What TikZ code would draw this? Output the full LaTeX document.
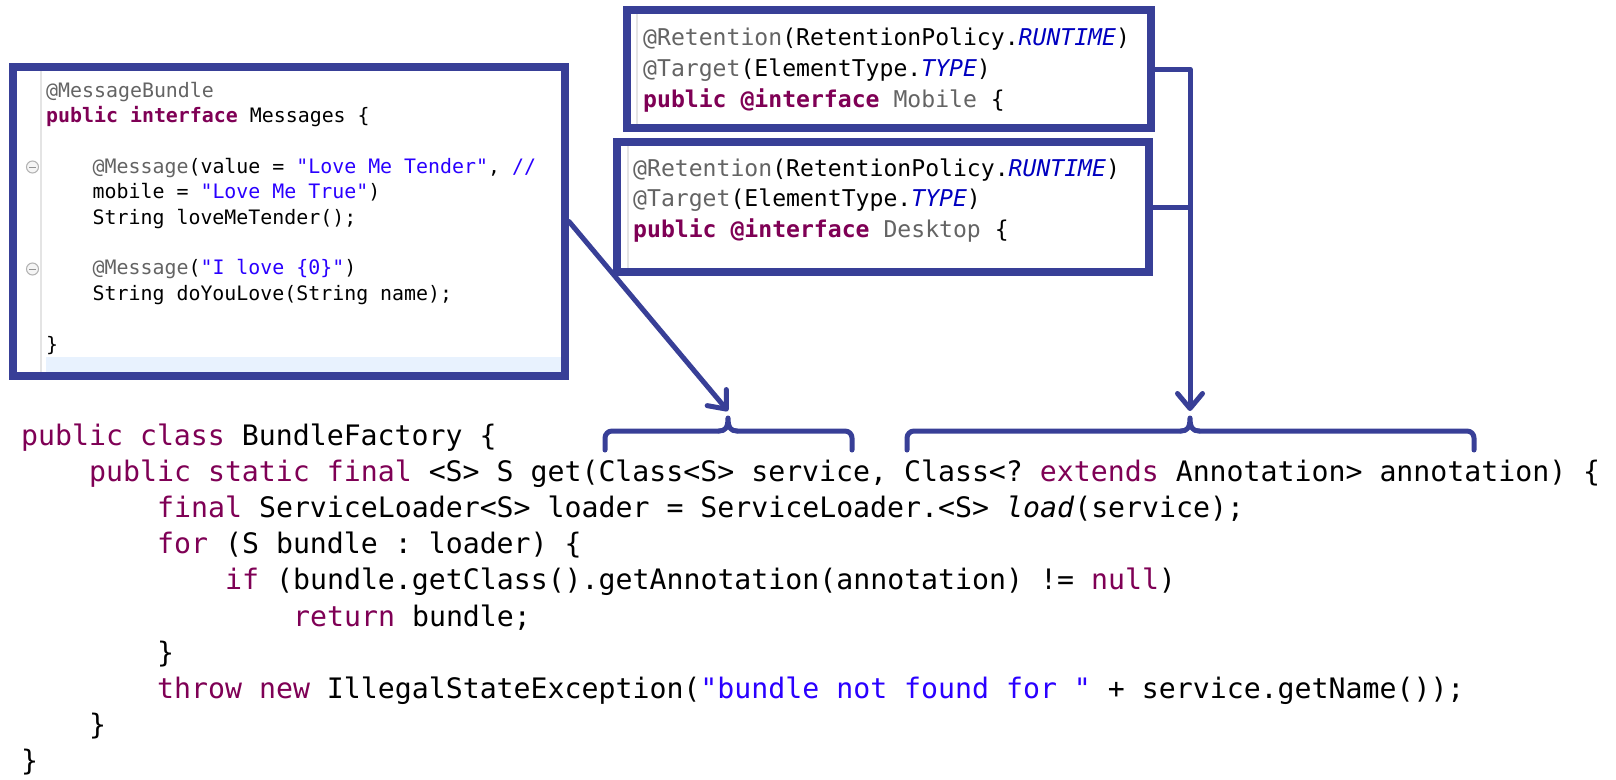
\documentclass[tikz,border=0pt]{standalone}
\usepackage{fontspec}
\setmonofont{DejaVu Sans Mono}
\usetikzlibrary{arrows.meta}
\definecolor{frame}{HTML}{383F97}
\definecolor{kwc}{HTML}{7F0055}
\definecolor{strc}{HTML}{2A00FF}
\definecolor{annc}{HTML}{646464}
\definecolor{cstc}{HTML}{0000C0}
\definecolor{gut}{HTML}{E4E4E4}
\definecolor{hil}{HTML}{E8F2FE}
\newcommand\cKW[1]{\textcolor{kwc}{#1}}
\newcommand\cKB[1]{\textcolor{kwc}{\bfseries #1}}
\newcommand\cST[1]{\textcolor{strc}{#1}}
\newcommand\cAN[1]{\textcolor{annc}{#1}}
\newcommand\cCI[1]{\textcolor{cstc}{\itshape #1}}
\begin{document}
\begin{tikzpicture}[x=1pt,y=-1pt,
  codebox/.style={draw=frame, line width=8pt, fill=white, inner sep=0pt},
  bline/.style={draw=frame, line width=5pt, line cap=round, line join=round},
  barrow/.style={bline, -{Straight Barb[length=15pt,width=25pt,round]}},
  ltxt/.style={anchor=base west, inner sep=0pt, font=\fontsize{19.9}{24}\selectfont\ttfamily},
  ttxt/.style={anchor=base west, inner sep=0pt, font=\fontsize{23.1}{28}\selectfont\ttfamily},
  btxt/.style={anchor=base west, inner sep=0pt, font=\fontsize{28.2}{34}\selectfont\ttfamily},
  fold/.style={draw=annc!50, fill=gray!8, line width=1pt}
]
\useasboundingbox (0,0) rectangle (1616,779);
\fill[white] (0,0) rectangle (1616,779);

% ---------- left box ----------
\node[codebox, minimum width=552pt, minimum height=309pt] (lbox) at (289,221.5) {};
\fill[hil] (46,357) rectangle (561,372);
\draw[gut, line width=1.2pt] (41,71) -- (41,372);
\draw[fold] (32.5,167) circle (6pt);
\draw[annc!70, line width=1pt] (29,167) -- (36,167);
\draw[fold] (32.5,269) circle (6pt);
\draw[annc!70, line width=1pt] (29,269) -- (36,269);

\node[ltxt] (l0) at (46,97) {\cAN{@MessageBundle}};
\node[ltxt] (l1) at (46,122.4) {\cKB{public interface} Messages \{};
\node[ltxt] (l3) at (92.5,173.2) {\cAN{@Message}(value = \cST{"Love Me Tender"}, \cST{//}};
\node[ltxt] (l4) at (92.5,198.6) {mobile = \cST{"Love Me True"})};
\node[ltxt] (l5) at (92.5,224) {String loveMeTender();};
\node[ltxt] (l7) at (92.5,274.8) {\cAN{@Message}(\cST{"I love \{0\}"})};
\node[ltxt] (l8) at (92.5,300.2) {String doYouLove(String name);};
\node[ltxt] (l10) at (46,351) {\}};

% ---------- mobile box ----------
\node[codebox, minimum width=524pt, minimum height=118pt] (mob) at (889,69) {};
\draw[gut, line width=1.2pt] (637,14) -- (637,124);
\node[ttxt] (m1) at (643,45) {\cAN{@Retention}(RetentionPolicy.\cCI{RUNTIME})};
\node[ttxt] (m2) at (643,76) {\cAN{@Target}(ElementType.\cCI{TYPE})};
\node[ttxt] (m3) at (643,107) {\cKB{public @interface} \cAN{Mobile} \{};

% ---------- desktop box ----------
\node[codebox, minimum width=532pt, minimum height=130pt] (desk) at (883,207) {};
\draw[gut, line width=1.2pt] (628,146) -- (628,268);
\node[ttxt] (d1) at (633,176) {\cAN{@Retention}(RetentionPolicy.\cCI{RUNTIME})};
\node[ttxt] (d2) at (633,206) {\cAN{@Target}(ElementType.\cCI{TYPE})};
\node[ttxt] (d3) at (633,237) {\cKB{public @interface} \cAN{Desktop} \{};

% ---------- bottom code ----------
\node[btxt] (c0) at (21,445) {\cKW{public class} BundleFactory \{};
\node[btxt] (c1) at (89,481.2) {\cKW{public static final} <S> S get(Class<S> service, Class<? \cKW{extends} Annotation> annotation) \{};
\node[btxt] (c2) at (157,517.4) {\cKW{final} ServiceLoader<S> loader = ServiceLoader.<S> \textit{load}(service);};
\node[btxt] (c3) at (157,553.6) {\cKW{for} (S bundle : loader) \{};
\node[btxt] (c4) at (225,589.8) {\cKW{if} (bundle.getClass().getAnnotation(annotation) != \cKW{null})};
\node[btxt] (c5) at (293,626) {\cKW{return} bundle;};
\node[btxt] (c6) at (157,662.2) {\}};
\node[btxt] (c7) at (157,698.4) {\cKW{throw new} IllegalStateException(\cST{"bundle not found for "} + service.getName());};
\node[btxt] (c8) at (89,734.6) {\}};
\node[btxt] (c9) at (21,770.8) {\}};

% ---------- braces ----------
\coordinate (b1tip) at (728,411);
\coordinate (b2tip) at (1190,411);
\coordinate (j1) at (1190,69);
\draw[bline, rounded corners=7pt] (605,450) -- (605,431) -- (719,431);
\draw[bline] (719,431) .. controls (725,431) and (728,428) .. (728,418)
             .. controls (728,428) and (731,431) .. (737,431);
\draw[bline, rounded corners=7pt] (737,431) -- (852,431) -- (852,450);

\draw[bline, rounded corners=7pt] (907,450) -- (907,431) -- (1181,431);
\draw[bline] (1181,431) .. controls (1187,431) and (1190,428) .. (1190,418)
             .. controls (1190,428) and (1193,431) .. (1199,431);
\draw[bline, rounded corners=7pt] (1199,431) -- (1474,431) -- (1474,450);

% ---------- connectors ----------
\draw[barrow] (lbox.east) -- (b1tip);
\draw[barrow] (mob.east) -- (j1) -- (b2tip);
\draw[bline] (desk.east) -- (desk.east -| j1);
\end{tikzpicture}
\end{document}
